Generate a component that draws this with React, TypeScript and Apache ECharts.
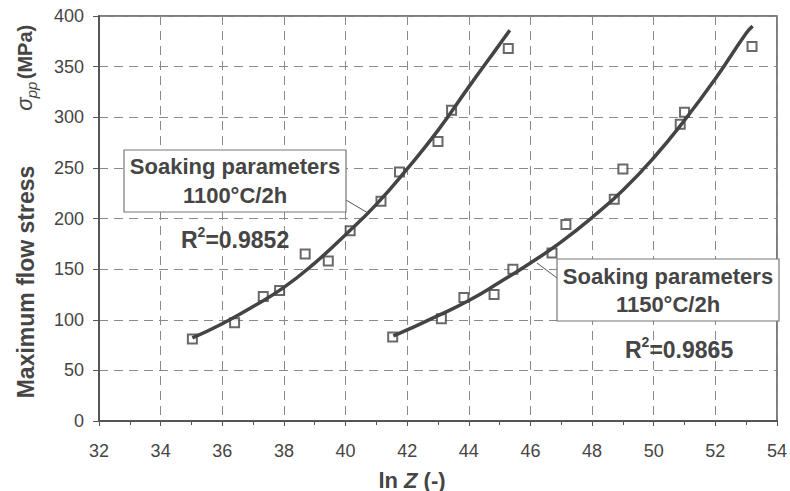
import React, { useEffect, useRef } from "react";
import * as echarts from "echarts";

// Measured points, soaking 1100°C/2h
const pts1X = [35.03, 36.4, 37.33, 37.86, 38.69, 39.44, 40.15, 41.15, 41.75, 43.0, 43.44, 45.28];
const pts1Y = [81, 97, 123, 129, 165, 158, 188, 217, 246, 276, 307, 368];
// Measured points, soaking 1150°C/2h
const pts2X = [41.53, 43.11, 43.84, 44.82, 45.43, 46.7, 47.15, 48.72, 49.0, 50.86, 51.0, 53.19];
const pts2Y = [83, 101, 122, 125, 150, 166, 194, 219, 249, 293, 305, 370];
// Fitted curves
const curve1X = [35.03, 36, 37, 38, 39, 40, 41, 42, 43, 44, 45, 45.33];
const curve1Y = [82, 96, 113, 132, 156, 184, 214, 249, 287, 330, 372, 386];
const curve2X = [41.55, 42, 43, 44, 45, 46, 47, 48, 49, 50, 51, 52, 53, 53.21];
const curve2Y = [84, 90, 104, 119, 137, 156, 177, 201, 228, 260, 297, 338, 383, 390];

const xTicks = ["32", "34", "36", "38", "40", "42", "44", "46", "48", "50", "52", "54"];

const TXT = "#454545";
const FONT = "'Liberation Sans', Arial, sans-serif";

function zip(xs: number[], ys: number[]) {
  return xs.map((x, i) => [x, ys[i]]);
}

export default function App() {
  const ref = useRef<HTMLDivElement>(null);
  useEffect(() => {
    if (!ref.current) return;
    const chart = echarts.init(ref.current, undefined, { renderer: "svg" });
    const boxText = (cx: number, y1: number, y2: number, t1: string, t2: string) => [
      {
        type: "text",
        z: 20,
        style: { text: t1, x: cx, y: y1, align: "center", verticalAlign: "middle", font: `bold 22px ${FONT}`, fill: TXT },
      },
      {
        type: "text",
        z: 20,
        style: { text: t2, x: cx, y: y2, align: "center", verticalAlign: "middle", font: `bold 22px ${FONT}`, fill: TXT },
      },
    ];
    const r2 = (x: number, y: number, val: string) => ({
      type: "text",
      z: 20,
      x,
      y,
      style: {
        text: `{r|R}{s|2}{r|=${val}}`,
        align: "left",
        verticalAlign: "middle",
        rich: {
          r: { fontFamily: FONT, fontWeight: "bold", fontSize: 23, fill: TXT, color: TXT, verticalAlign: "bottom", lineHeight: 27 },
          s: { fontFamily: FONT, fontWeight: "bold", fontSize: 14, fill: TXT, color: TXT, verticalAlign: "top", lineHeight: 27 },
        },
      },
    });
    const rot = (text: string, x: number, y: number, font: string) => ({
      type: "text",
      z: 20,
      x,
      y,
      rotation: Math.PI / 2,
      style: { text, x: 0, y: 0, align: "center", verticalAlign: "middle", font, fill: TXT },
    });
    chart.setOption({
      animation: false,
      backgroundColor: "#ffffff",
      grid: { left: 99, right: 8, top: 16, bottom: 70, show: true, borderColor: "#555", borderWidth: 1.5, backgroundColor: "transparent" },
      xAxis: {
        type: "value",
        min: 32,
        max: 54,
        interval: 2,
        axisLine: { show: true, onZero: false, lineStyle: { color: "#555", width: 2 } },
        axisTick: { show: true, inside: false, length: 5, lineStyle: { color: "#555", width: 1 } },
        minorTick: { show: true, splitNumber: 2, length: 4, lineStyle: { color: "#555", width: 1 } },
        axisLabel: {
          fontFamily: FONT,
          fontSize: 18,
          color: TXT,
          margin: 21,
          formatter: (v: number) => (xTicks.includes(String(v)) ? String(v) : ""),
        },
        splitLine: { show: true, lineStyle: { color: "#8a8a8a", type: [9, 6], width: 1 } },
      },
      yAxis: {
        type: "value",
        min: 0,
        max: 400,
        interval: 50,
        axisLine: { show: true, onZero: false, lineStyle: { color: "#555", width: 2 } },
        axisTick: { show: true, inside: false, length: 6, lineStyle: { color: "#555", width: 1 } },
        axisLabel: { fontFamily: FONT, fontSize: 18, color: TXT, margin: 15 },
        splitLine: { show: true, lineStyle: { color: "#8a8a8a", type: [9, 6], width: 1 } },
      },
      series: [
        {
          type: "scatter",
          data: zip(pts1X, pts1Y),
          symbol: "rect",
          symbolSize: 9,
          itemStyle: { color: "#ffffff", borderColor: "#444", borderWidth: 2 },
          z: 3,
        },
        {
          type: "scatter",
          data: zip(pts2X, pts2Y),
          symbol: "rect",
          symbolSize: 9,
          itemStyle: { color: "#ffffff", borderColor: "#444", borderWidth: 2 },
          z: 3,
        },
        {
          type: "line",
          data: zip(curve1X, curve1Y),
          smooth: true,
          showSymbol: false,
          lineStyle: { color: "#444", width: 3.5 },
          z: 4,
        },
        {
          type: "line",
          data: zip(curve2X, curve2Y),
          smooth: true,
          showSymbol: false,
          lineStyle: { color: "#444", width: 3.5 },
          z: 4,
        },
      ],
      graphic: [
        // axis titles
        {
          type: "text",
          z: 20,
          style: {
            text: "{b|ln }{i|Z}{b| (-)}",
            x: 412,
            y: 480,
            align: "center",
            verticalAlign: "middle",
            rich: {
              b: { fontFamily: FONT, fontWeight: "bold", fontSize: 22, fill: TXT, color: TXT },
              i: { fontFamily: FONT, fontWeight: "bold", fontStyle: "italic", fontSize: 22, fill: TXT, color: TXT },
            },
          },
        },
        rot("Maximum flow stress", 26, 282, `bold 23px ${FONT}`),
        rot("σ", 24, 104, `italic 22px ${FONT}`),
        rot("pp", 31, 90, `italic 15px ${FONT}`),
        rot("(MPa)", 25, 52, `bold 20px ${FONT}`),
        // annotations
        { type: "line", z: 15, shape: { x1: 346, y1: 200, x2: 368, y2: 213 }, style: { stroke: "#555", lineWidth: 1 } },
        { type: "rect", z: 16, shape: { x: 124, y: 150, width: 222, height: 62 }, style: { fill: "#fff", stroke: "#777", lineWidth: 1.2 } },
        ...boxText(235, 166, 195, "Soaking parameters", "1100°C/2h"),
        r2(181, 238, "0.9852"),
        { type: "line", z: 15, shape: { x1: 557, y1: 278, x2: 537, y2: 263 }, style: { stroke: "#555", lineWidth: 1 } },
        { type: "rect", z: 16, shape: { x: 557, y: 259, width: 222, height: 62 }, style: { fill: "#fff", stroke: "#777", lineWidth: 1.2 } },
        ...boxText(668, 276, 304, "Soaking parameters", "1150°C/2h"),
        r2(625, 348, "0.9865"),
      ],
    });
    return () => chart.dispose();
  }, []);
  return <div ref={ref} style={{ position: "fixed", left: 0, top: 0, width: 790, height: 491 }} />;
}
